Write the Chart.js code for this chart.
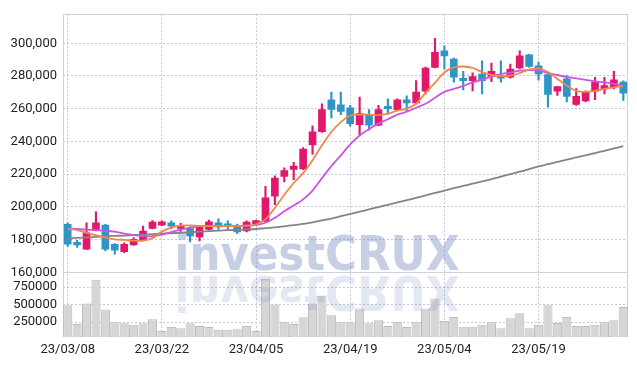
<!DOCTYPE html>
<html>
<head>
<meta charset="utf-8">
<script src="https://cdn.jsdelivr.net/npm/chart.js@4.4.1/dist/chart.umd.min.js"></script>
<style>
    html, body { margin: 0; padding: 0; background: #ffffff; }
    canvas { display: block; }
</style>
</head>
<body>
<canvas id="stockChart" width="637" height="366"></canvas>
<script>
// Trading days shown on the chart
const dates = [
    '23/03/08', '23/03/09', '23/03/10', '23/03/13', '23/03/14', '23/03/15', '23/03/16', '23/03/17', '23/03/20', '23/03/21',
    '23/03/22', '23/03/23', '23/03/24', '23/03/27', '23/03/28', '23/03/29', '23/03/30', '23/03/31', '23/04/03', '23/04/04',
    '23/04/05', '23/04/06', '23/04/07', '23/04/10', '23/04/11', '23/04/12', '23/04/13', '23/04/14', '23/04/17', '23/04/18',
    '23/04/19', '23/04/20', '23/04/21', '23/04/24', '23/04/25', '23/04/26', '23/04/27', '23/04/28', '23/05/02', '23/05/03',
    '23/05/04', '23/05/08', '23/05/09', '23/05/10', '23/05/11', '23/05/12', '23/05/15', '23/05/16', '23/05/17', '23/05/18',
    '23/05/19', '23/05/22', '23/05/23', '23/05/24', '23/05/25', '23/05/26', '23/05/30', '23/05/31', '23/06/01', '23/06/02'
];

const opens = [
    189300, 178400, 174100, 185600, 188900, 177200, 172600, 176800, 179600, 186900,
    188900, 190300, 186900, 186700, 181600, 186200, 190300, 189700, 188300, 185300,
    189700, 191300, 206500, 218600, 222900, 223200, 237800, 245900, 265500, 262400,
    260600, 250300, 256000, 249900, 261400, 259400, 265500, 263500, 270700, 285300,
    295300, 290300, 278600, 277200, 281200, 279800, 280200, 279200, 284900, 292900,
    286200, 280800, 270700, 278200, 262600, 264700, 270700, 272100, 273500, 276200
];
const highs = [
    190300, 179600, 190300, 197000, 189300, 177600, 178000, 181200, 188300, 191700,
    191500, 191500, 190000, 188000, 188700, 192000, 192700, 191500, 189500, 191500,
    192000, 212600, 219000, 223800, 227300, 236200, 249500, 263000, 270100, 270100,
    262000, 267100, 259400, 262000, 266000, 266000, 267900, 277200, 285500, 303000,
    298400, 291000, 282900, 282000, 289300, 287900, 289300, 287300, 295300, 293300,
    288500, 281000, 273500, 280200, 272300, 270900, 279200, 279200, 282900, 277000
];
const lows = [
    175800, 175200, 174000, 185300, 173200, 171100, 172000, 176500, 179200, 186500,
    188500, 186500, 185000, 178600, 179200, 185800, 186200, 186200, 183600, 184700,
    188900, 190800, 201400, 215200, 216600, 222800, 232100, 245500, 254400, 256400,
    249300, 243800, 246900, 249500, 256600, 259000, 258800, 262900, 269100, 284900,
    284200, 276200, 271500, 270800, 269100, 276600, 276200, 278700, 284300, 285300,
    277400, 261000, 268100, 264100, 262000, 264200, 265500, 269100, 272100, 265000
];
const closes = [
    177200, 176800, 184200, 190300, 174100, 173500, 177200, 180200, 185300, 190700,
    190900, 188300, 188300, 182200, 187700, 190900, 187700, 188900, 184700, 190700,
    191700, 205500, 217600, 222200, 224900, 235300, 245900, 259400, 259600, 258400,
    250900, 257000, 249900, 259400, 260000, 265500, 263600, 270100, 284900, 294400,
    292300, 279200, 277200, 279600, 277200, 282900, 278600, 284200, 292300, 285900,
    281200, 268700, 273500, 267500, 267500, 270100, 276200, 274100, 277600, 269500
];
const volumes = [
    492000, 226000, 516000, 853000, 432000, 250000, 235000, 212000, 235000, 292000,
    123000, 180000, 165000, 235000, 197000, 180000, 142000, 142000, 151000, 197000,
    123000, 868000, 503000, 258000, 226000, 320000, 516000, 629000, 348000, 250000,
    250000, 446000, 235000, 278000, 197000, 258000, 180000, 250000, 446000, 587000,
    268000, 324000, 184000, 184000, 212000, 250000, 165000, 306000, 376000, 165000,
    212000, 492000, 239000, 324000, 197000, 197000, 212000, 250000, 278000, 465000
];

// Moving averages
const maShort = [
    186700, 185800, 184200, 182700, 181200, 180200, 179800, 179400, 179400, 180900,
    184900, 187300, 188500, 188700, 188300, 188300, 188300, 188300, 188300, 188500,
    189300, 192400, 199400, 207300, 214600, 220600, 228500, 237600, 245800, 251800,
    255800, 256400, 256400, 256100, 257000, 258800, 260000, 263000, 269700, 275800,
    282100, 285200, 285800, 284900, 282400, 280600, 280000, 280300, 281800, 283900,
    284600, 282400, 278200, 274200, 270900, 270300, 270900, 272100, 273000, 273900
];
const maMid = [
    186900, 186500, 186100, 185800, 185500, 184900, 183600, 182700, 182200, 182100,
    183000, 184600, 186100, 187300, 188200, 188300, 188300, 188300, 188300, 188500,
    188900, 190300, 193300, 197300, 200900, 204600, 210000, 217600, 224900, 231500,
    238200, 243600, 247600, 250900, 253600, 256400, 258200, 260600, 263000, 266700,
    270300, 272100, 273900, 276100, 277600, 279700, 281200, 282100, 283300, 283600,
    283300, 281800, 280600, 279400, 278500, 277600, 276700, 276100, 275200, 273900
];
const maLong = [
    180800, 181100, 181400, 181700, 182000, 182250, 182500, 182800, 183100, 183400,
    183650, 183900, 184200, 184500, 184850, 185150, 185450, 185750, 186000, 186250,
    186500, 187000, 187500, 188100, 188800, 189600, 190600, 191700, 192900, 194300,
    195700, 197100, 198500, 199900, 201300, 202700, 204100, 205500, 207000, 208500,
    210000, 211400, 212800, 214200, 215600, 217000, 218500, 220000, 221500, 223100,
    224700, 226100, 227500, 228900, 230200, 231500, 232900, 234300, 235700, 237150
];

// Tick labels on the two value axes
const priceTicks = [160000, 180000, 200000, 220000, 240000, 260000, 280000, 300000];
const volumeTicks = [250000, 500000, 750000];

const UP_COLOR = '#e2186c';
const DOWN_COLOR = '#2f95c7';
const GRID_COLOR = '#c6c6d8';
const FONT = { family: 'Roboto, "Liberation Sans", sans-serif', size: 13 };

// Plot frame and the line between price and volume panels
const framePlugin = {
    id: 'frame',
    beforeDatasetsDraw(chart) {
        const { ctx, chartArea } = chart;
        const sep = Math.round(chart.scales.yv.top) + 0.5;
        ctx.save();
        ctx.strokeStyle = '#d0d0d6';
        ctx.lineWidth = 1;
        ctx.strokeRect(Math.round(chartArea.left) + 0.5, Math.round(chartArea.top) + 0.5,
            Math.round(chartArea.width) - 1, Math.round(chartArea.height) - 1);
        ctx.beginPath();
        ctx.moveTo(chartArea.left, sep);
        ctx.lineTo(chartArea.right, sep);
        ctx.stroke();
        ctx.restore();
    }
};

// investCRUX watermark with its mirror image
const watermarkPlugin = {
    id: 'watermark',
    afterDatasetsDraw(chart) {
        const ctx = chart.ctx;
        const cx = 317;
        const base = 270;
        ctx.save();
        ctx.font = 'bold 48px "DejaVu Sans", sans-serif';
        ctx.textAlign = 'center';
        ctx.textBaseline = 'alphabetic';
        ctx.fillStyle = 'rgba(120, 140, 190, 0.42)';
        ctx.fillText('investCRUX', cx, base, 285);
        ctx.translate(0, base * 2 + 6);
        ctx.scale(1, -1);
        ctx.fillStyle = 'rgba(120, 140, 190, 0.2)';
        ctx.fillText('investCRUX', cx, base, 285);
        ctx.restore();
    }
};

function initStockChart() {
    const ctx = document.getElementById('stockChart');
    const candleColors = closes.map((c, i) => (c >= opens[i] ? UP_COLOR : DOWN_COLOR));

    new Chart(ctx, {
        type: 'bar',
        data: {
            labels: dates,
            datasets: [
                {
                    type: 'line',
                    label: 'MA5',
                    data: maShort,
                    yAxisID: 'y',
                    borderColor: '#f0874c',
                    borderWidth: 1.8,
                    pointRadius: 0,
                    tension: 0.4,
                    order: 0
                },
                {
                    type: 'line',
                    label: 'MA10',
                    data: maMid,
                    yAxisID: 'y',
                    borderColor: '#cc55e6',
                    borderWidth: 1.8,
                    pointRadius: 0,
                    tension: 0.4,
                    order: 1
                },
                {
                    type: 'line',
                    label: 'MA60',
                    data: maLong,
                    yAxisID: 'y',
                    borderColor: '#858585',
                    borderWidth: 1.8,
                    pointRadius: 0,
                    tension: 0.4,
                    order: 2
                },
                {
                    label: 'Body',
                    data: opens.map((o, i) => [o, closes[i]]),
                    yAxisID: 'y',
                    backgroundColor: candleColors,
                    barThickness: 7,
                    grouped: false,
                    order: 3
                },
                {
                    label: 'Wick',
                    data: lows.map((l, i) => [l, highs[i]]),
                    yAxisID: 'y',
                    backgroundColor: candleColors,
                    barThickness: 1.5,
                    grouped: false,
                    order: 4
                },
                {
                    label: 'Volume',
                    data: volumes,
                    yAxisID: 'yv',
                    backgroundColor: '#d6d6d6',
                    borderColor: '#bcbcbc',
                    borderWidth: 1,
                    barPercentage: 1,
                    categoryPercentage: 0.97,
                    grouped: false,
                    order: 5
                }
            ]
        },
        options: {
            responsive: false,
            animation: false,
            devicePixelRatio: 1,
            layout: {
                padding: { top: 9, right: 9, left: 0, bottom: 0 }
            },
            plugins: {
                legend: { display: false },
                tooltip: { enabled: false }
            },
            scales: {
                x: {
                    grid: {
                        offset: false,
                        drawTicks: false,
                        color: (c) => (c.index % 10 === 0 ? GRID_COLOR : 'transparent')
                    },
                    border: { display: false, dash: [2, 2] },
                    ticks: {
                        autoSkip: false,
                        maxRotation: 0,
                        padding: 5,
                        color: '#222222',
                        font: FONT,
                        callback: (v, i) => (i % 10 === 0 ? dates[i] : '')
                    },
                    afterFit: (s) => { s.height = 29; }
                },
                yv: {
                    type: 'linear',
                    position: 'left',
                    stack: 'panels',
                    stackWeight: 1,
                    min: 39000,
                    max: 960000,
                    grid: {
                        drawTicks: false,
                        color: GRID_COLOR
                    },
                    border: { display: false, dash: [2, 2] },
                    ticks: {
                        autoSkip: false,
                        padding: 6,
                        color: '#222222',
                        font: FONT,
                        callback: (v) => String(v)
                    },
                    afterBuildTicks: (s) => { s.ticks = volumeTicks.map((v) => ({ value: v })); },
                    afterFit: (s) => { s.width = 63; }
                },
                y: {
                    type: 'linear',
                    position: 'left',
                    stack: 'panels',
                    stackWeight: 4,
                    min: 160000,
                    max: 318000,
                    grid: {
                        drawTicks: false,
                        color: (c) => (c.tick && c.tick.value > 160000 ? GRID_COLOR : 'transparent')
                    },
                    border: { display: false, dash: [2, 2] },
                    ticks: {
                        autoSkip: false,
                        padding: 6,
                        color: '#222222',
                        font: FONT,
                        callback: (v) => v.toLocaleString('en-US')
                    },
                    afterBuildTicks: (s) => { s.ticks = priceTicks.map((v) => ({ value: v })); },
                    afterFit: (s) => { s.width = 63; }
                }
            }
        },
        plugins: [framePlugin, watermarkPlugin]
    });
}

initStockChart();
</script>
</body>
</html>
